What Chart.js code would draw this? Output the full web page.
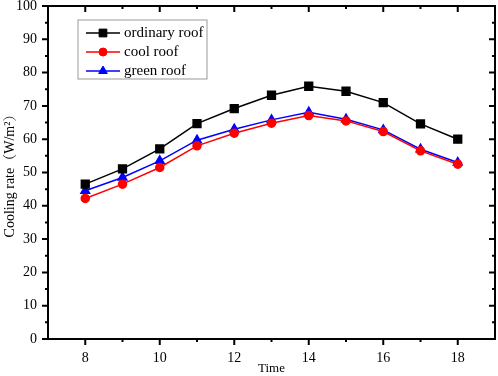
<!DOCTYPE html>
<html>
<head>
<meta charset="utf-8">
<script src="https://cdn.jsdelivr.net/npm/chart.js@4"></script>
<style>
  html, body { margin: 0; padding: 0; background: #fff; }
  #wrap { width: 498px; height: 376px; }
</style>
</head>
<body>
<div id="wrap"><canvas id="coolingChart" width="498" height="376"></canvas></div>
<script>
var hours = [8, 9, 10, 11, 12, 13, 14, 15, 16, 17, 18];
var ordinaryRoof = [46.5, 51.1, 57.1, 64.7, 69.2, 73.2, 75.9, 74.4, 71.0, 64.6, 60.0];
var coolRoof = [42.2, 46.5, 51.5, 58.0, 61.8, 64.8, 67.1, 65.5, 62.3, 56.5, 52.5];
var greenRoof = [44.5, 48.5, 53.5, 59.7, 63.0, 65.8, 68.1, 66.0, 62.8, 57.0, 53.0];
var xTickLabels = [8, 10, 12, 14, 16, 18];
var xMinorTicks = [9, 11, 13, 15, 17];
var yTickLabels = [0, 10, 20, 30, 40, 50, 60, 70, 80, 90, 100];
var yMinorTicks = [5, 15, 25, 35, 45, 55, 65, 75, 85, 95];

var serif = '"Liberation Serif", "Noto Serif CJK SC", "Noto Sans CJK SC", serif';

function toPoints(values) {
  return values.map(function (v, i) {
    return { x: hours[i], y: v };
  });
}

// frame, tick marks and the inset legend
var framePlugin = {
  id: "frame",
  afterDatasetsDraw: function (chart) {
    var ctx = chart.ctx;
    var a = chart.chartArea;
    var xs = chart.scales.x;
    var ys = chart.scales.y;
    ctx.save();
    ctx.strokeStyle = "#000";
    ctx.lineWidth = 2;
    ctx.strokeRect(a.left, a.top, a.right - a.left, a.bottom - a.top);

    ctx.beginPath();
    xTickLabels.forEach(function (v) {
      var px = xs.getPixelForValue(v);
      ctx.moveTo(px, a.bottom); ctx.lineTo(px, a.bottom + 6);
      ctx.moveTo(px, a.top); ctx.lineTo(px, a.top + 6);
    });
    xMinorTicks.forEach(function (v) {
      var px = xs.getPixelForValue(v);
      ctx.moveTo(px, a.bottom); ctx.lineTo(px, a.bottom + 3);
      ctx.moveTo(px, a.top); ctx.lineTo(px, a.top + 3);
    });
    yTickLabels.forEach(function (v) {
      var py = ys.getPixelForValue(v);
      ctx.moveTo(a.left, py); ctx.lineTo(a.left - 6, py);
      ctx.moveTo(a.right, py); ctx.lineTo(a.right - 6, py);
    });
    yMinorTicks.forEach(function (v) {
      var py = ys.getPixelForValue(v);
      ctx.moveTo(a.left, py); ctx.lineTo(a.left - 3, py);
      ctx.moveTo(a.right, py); ctx.lineTo(a.right - 3, py);
    });
    ctx.stroke();

    // legend box
    ctx.lineWidth = 1;
    ctx.strokeStyle = "#999";
    ctx.strokeRect(78, 20, 129, 59);
    var rowY = [33, 52, 71];
    chart.data.datasets.forEach(function (ds, i) {
      var y = rowY[i];
      ctx.strokeStyle = ds.borderColor;
      ctx.lineWidth = 1.5;
      ctx.beginPath();
      ctx.moveTo(86, y); ctx.lineTo(120, y);
      ctx.stroke();
      ctx.fillStyle = ds.pointBackgroundColor;
      ctx.strokeStyle = ds.pointBorderColor;
      ctx.lineWidth = 1;
      Chart.helpers.drawPoint(ctx, { pointStyle: ds.pointStyle, radius: ds.pointRadius, borderWidth: 1 }, 103, y);
      ctx.fillStyle = "#000";
      ctx.font = "15px " + serif;
      ctx.textBaseline = "middle";
      ctx.textAlign = "left";
      ctx.fillText(ds.label, 124, y);
    });
    ctx.restore();
  },
};

var ctx = document.getElementById("coolingChart");
new Chart(ctx, {
  type: "line",
  data: {
    datasets: [
      {
        label: "ordinary roof",
        data: toPoints(ordinaryRoof),
        borderColor: "#000000",
        backgroundColor: "#000000",
        pointBackgroundColor: "#000000",
        pointBorderColor: "#000000",
        pointStyle: "rect",
        pointRadius: 5.5,
        borderWidth: 1.5,
      },
      {
        label: "cool roof",
        data: toPoints(coolRoof),
        borderColor: "#ff0000",
        backgroundColor: "#ff0000",
        pointBackgroundColor: "#ff0000",
        pointBorderColor: "#ff0000",
        pointStyle: "circle",
        pointRadius: 4,
        borderWidth: 1.5,
      },
      {
        label: "green roof",
        data: toPoints(greenRoof),
        borderColor: "#0000ff",
        backgroundColor: "#0000ff",
        pointBackgroundColor: "#0000ff",
        pointBorderColor: "#0000ff",
        pointStyle: "triangle",
        pointRadius: 5,
        borderWidth: 1.5,
      },
    ],
  },
  options: {
    responsive: false,
    animation: false,
    layout: { autoPadding: false, padding: { left: 0, top: 6, right: 3, bottom: 0 } },
    plugins: {
      legend: { display: false },
      tooltip: { enabled: false },
    },
    scales: {
      x: {
        type: "linear",
        min: 7,
        max: 19,
        grid: { display: false, drawTicks: false },
        border: { display: false },
        afterBuildTicks: function (scale) {
          scale.ticks = xTickLabels.map(function (v) { return { value: v }; });
        },
        afterFit: function (scale) {
          scale.height = 37;
          scale.paddingLeft = 0;
          scale.paddingRight = 0;
        },
        ticks: {
          color: "#000",
          padding: 11,
          maxRotation: 0,
          font: { family: serif, size: 14 },
        },
        title: {
          display: true,
          text: "Time",
          color: "#000",
          padding: { top: 0, bottom: 0 },
          font: { family: serif, size: 13 },
        },
      },
      y: {
        min: 0,
        max: 100,
        grid: { display: false, drawTicks: false },
        border: { display: false },
        afterBuildTicks: function (scale) {
          scale.ticks = yTickLabels.map(function (v) { return { value: v }; });
        },
        afterFit: function (scale) {
          scale.width = 48;
          scale.paddingTop = 0;
          scale.paddingBottom = 0;
        },
        ticks: {
          color: "#000",
          padding: 11,
          font: { family: serif, size: 14 },
        },
        title: {
          display: true,
          text: "Cooling rate（W/m²）",
          color: "#000",
          padding: { top: 2, bottom: 0 },
          font: { family: serif, size: 14 },
        },
      },
    },
  },
  plugins: [framePlugin],
});
</script>
</body>
</html>
